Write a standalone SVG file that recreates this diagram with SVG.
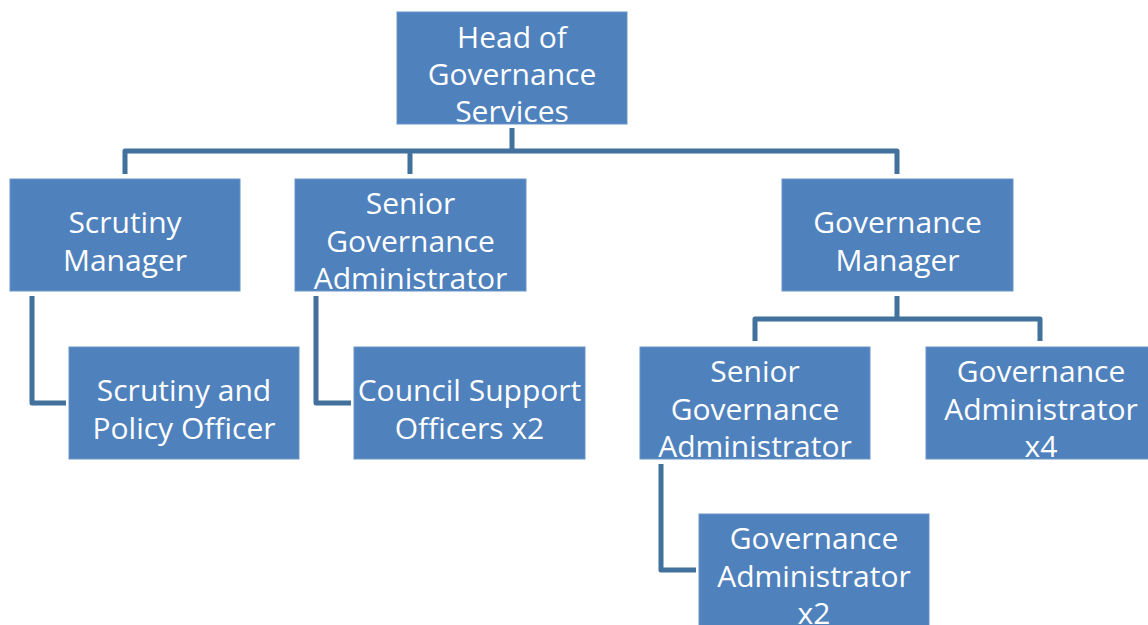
<svg xmlns="http://www.w3.org/2000/svg" width="1148" height="625" viewBox="0 0 1148 625">
<style>
.box{fill:#4F81BD;stroke:#6A93C8;stroke-width:1}
.t{font-family:"Open Sans","Liberation Sans",sans-serif;font-size:30px;fill:#FFFFFF;text-anchor:middle}
.c{fill:none;stroke:#41719C;stroke-width:5;stroke-linejoin:round;stroke-linecap:butt}
</style>
<defs>
<clipPath id="k1"><rect x="397" y="12" width="230" height="112"/></clipPath>
<clipPath id="k2"><rect x="10" y="179" width="230" height="112"/></clipPath>
<clipPath id="k3"><rect x="295" y="179" width="231" height="112"/></clipPath>
<clipPath id="k4"><rect x="782" y="179" width="231" height="112"/></clipPath>
<clipPath id="k5"><rect x="69" y="347" width="230" height="112"/></clipPath>
<clipPath id="k6"><rect x="354" y="347" width="231" height="112"/></clipPath>
<clipPath id="k7"><rect x="640" y="347" width="230" height="112"/></clipPath>
<clipPath id="k8"><rect x="926" y="347" width="230" height="112"/></clipPath>
<clipPath id="k9"><rect x="699" y="514" width="230" height="112"/></clipPath>
</defs>
<g id="connectors">
<path class="c" d="M512 128 V151 M125 174 V151 H897 V174 M410 151 V174"/>
<path class="c" d="M32 296 V403 H66"/>
<path class="c" d="M316 296 V403 H351"/>
<path class="c" d="M897 296 V319 M755 341 V319 H1040 V341"/>
<path class="c" d="M661 464 V570 H696"/>
</g>
<g id="head">
<rect class="box" x="397" y="12" width="230" height="112"/>
<g clip-path="url(#k1)"><text class="t" x="512" y="48">Head of</text><text class="t" x="512" y="85">Governance</text><text class="t" x="512" y="122">Services</text></g>
</g>
<g id="scrutiny-manager">
<rect class="box" x="10" y="179" width="230" height="112"/>
<g clip-path="url(#k2)"><text class="t" x="125" y="233">Scrutiny</text><text class="t" x="125" y="271">Manager</text></g>
</g>
<g id="senior-gov-admin-1">
<rect class="box" x="295" y="179" width="231" height="112"/>
<g clip-path="url(#k3)"><text class="t" x="410.5" y="214">Senior</text><text class="t" x="410.5" y="252">Governance</text><text class="t" x="410.5" y="289">Administrator</text></g>
</g>
<g id="governance-manager">
<rect class="box" x="782" y="179" width="231" height="112"/>
<g clip-path="url(#k4)"><text class="t" x="897.5" y="233">Governance</text><text class="t" x="897.5" y="271">Manager</text></g>
</g>
<g id="scrutiny-policy-officer">
<rect class="box" x="69" y="347" width="230" height="112"/>
<g clip-path="url(#k5)"><text class="t" x="184" y="401">Scrutiny and</text><text class="t" x="184" y="439">Policy Officer</text></g>
</g>
<g id="council-support-officers">
<rect class="box" x="354" y="347" width="231" height="112"/>
<g clip-path="url(#k6)"><text class="t" x="469.5" y="401">Council Support</text><text class="t" x="469.5" y="439">Officers x2</text></g>
</g>
<g id="senior-gov-admin-2">
<rect class="box" x="640" y="347" width="230" height="112"/>
<g clip-path="url(#k7)"><text class="t" x="755" y="382">Senior</text><text class="t" x="755" y="420">Governance</text><text class="t" x="755" y="457">Administrator</text></g>
</g>
<g id="gov-admin-x4">
<rect class="box" x="926" y="347" width="230" height="112"/>
<g clip-path="url(#k8)"><text class="t" x="1041" y="382">Governance</text><text class="t" x="1041" y="420">Administrator</text><text class="t" x="1041" y="457">x4</text></g>
</g>
<g id="gov-admin-x2">
<rect class="box" x="699" y="514" width="230" height="112"/>
<g clip-path="url(#k9)"><text class="t" x="814" y="549">Governance</text><text class="t" x="814" y="587">Administrator</text><text class="t" x="814" y="624">x2</text></g>
</g>
</svg>
